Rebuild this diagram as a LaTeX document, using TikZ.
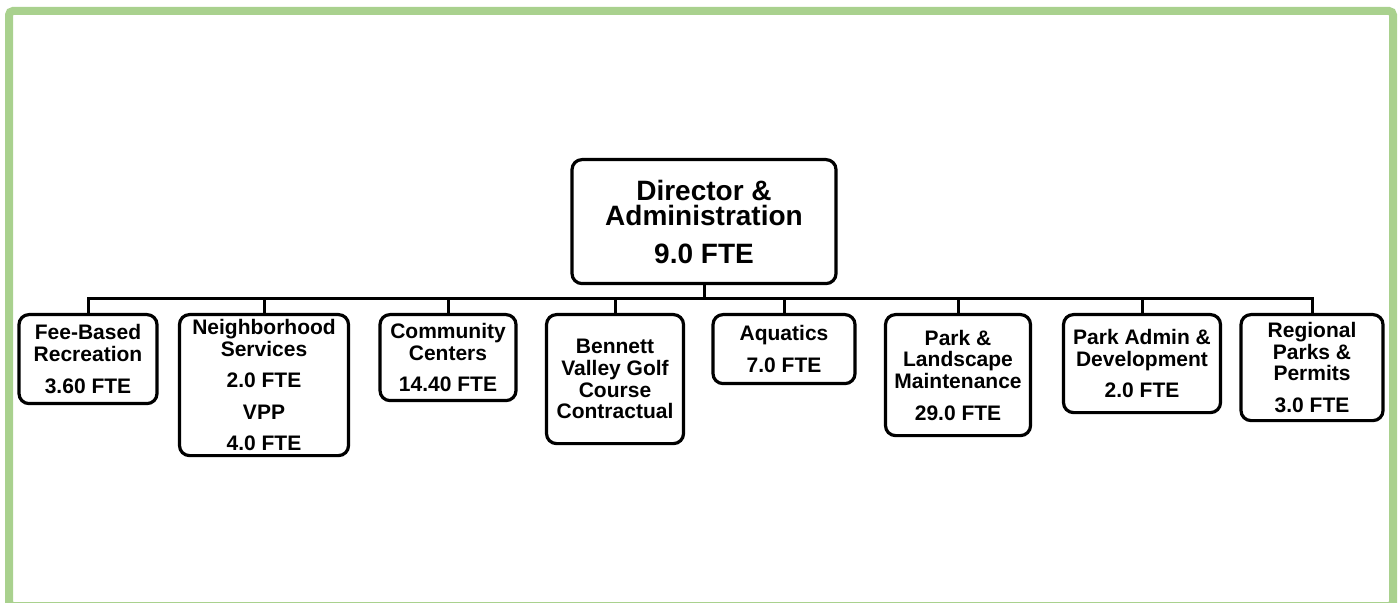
\documentclass[tikz,border=0pt]{standalone}
\usepackage{fontspec}
\setmainfont{Liberation Sans}
\definecolor{framegreen}{HTML}{A9D18E}
\begin{document}
\begin{tikzpicture}[x=0.5pt,y=-0.5pt,
  unit/.style={draw,line width=1.6pt,rounded corners=5pt,align=center,
    inner sep=0pt,font=\bfseries\fontsize{10.5}{10.8}\selectfont,anchor=north},
  head/.style={unit,font=\bfseries\fontsize{14}{12.8}\selectfont},
  conn/.style={line width=1.5pt}]
  % Page frame
  \useasboundingbox (0,0) rectangle (1400,603);
  \draw[framegreen,line width=4pt,rounded corners=2pt] (9,11) rectangle (1393,606);

  % Director box
  \node[head,minimum width=132pt,minimum height=62pt] (dir) at (704,158)
    {Director \&\\Administration\\[6pt]9.0 FTE};

  % Divisions along the bus
  \coordinate (bus) at (705,299);
  \node[unit,minimum width=69pt,minimum height=44.5pt] (fee) at (88,313)
    {Fee-Based\\Recreation\\[5pt]3.60 FTE};
  \node[unit,minimum width=84.5pt,minimum height=70.5pt] (nbh) at (264,313)
    {Neighborhood\\Services\\[5pt]2.0 FTE\\[5pt]VPP\\[5pt]4.0 FTE};
  \node[unit,minimum width=68pt,minimum height=43pt] (cc) at (448,313)
    {Community\\Centers\\[5pt]14.40 FTE};
  \node[unit,minimum width=68.5pt,minimum height=64.5pt] (golf) at (615,313)
    {Bennett\\Valley Golf\\Course\\Contractual};
  \node[unit,minimum width=71pt,minimum height=34.5pt] (aqua) at (784,313)
    {Aquatics\\[5pt]7.0 FTE};
  \node[unit,minimum width=72.5pt,minimum height=60.5pt] (plm) at (958,313)
    {Park \&\\Landscape\\Maintenance\\[5pt]29.0 FTE};
  \node[unit,minimum width=78.5pt,minimum height=49pt] (pad) at (1142,313)
    {Park Admin \&\\Development\\[5pt]2.0 FTE};
  \node[unit,minimum width=71pt,minimum height=53pt] (reg) at (1312,313)
    {Regional\\Parks \&\\Permits\\[5pt]3.0 FTE};

  % Connectors
  \foreach \n in {fee,nbh,cc,golf,aqua,plm,pad,reg}
    \draw[conn] (dir.south) -- (dir.south |- bus) -| (\n.north);
\end{tikzpicture}
\end{document}
